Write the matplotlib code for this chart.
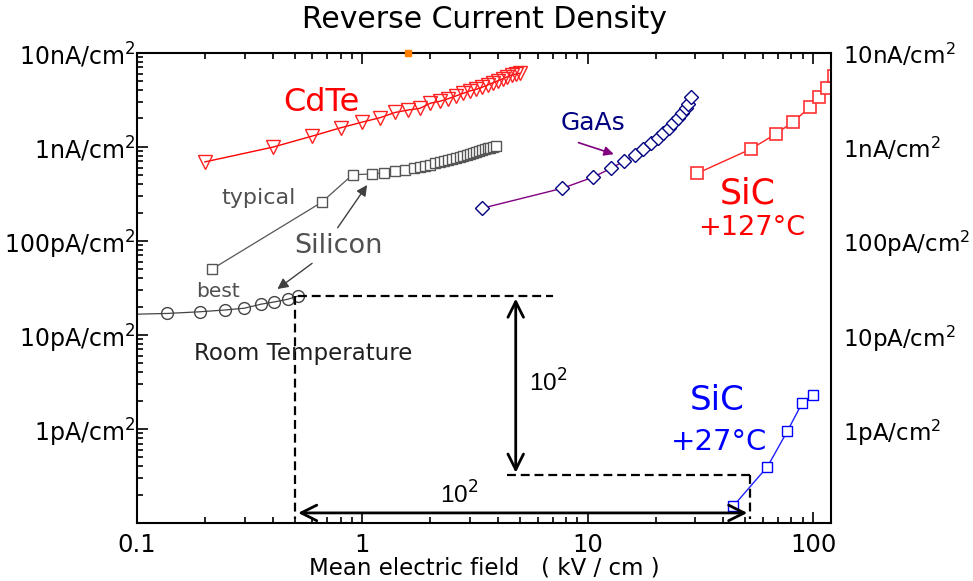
import matplotlib
matplotlib.use("Agg")
import matplotlib.pyplot as plt
from matplotlib.ticker import FixedLocator, NullFormatter, LogLocator

plt.rcParams['font.family'] = ['DejaVu Sans']
plt.rcParams['mathtext.fontset'] = 'dejavusans'

# ---------------- data ----------------
cdte_x = [0.2, 0.4, 0.6, 0.8, 1.0, 1.2, 1.4, 1.6, 1.8, 2.0, 2.2, 2.4, 2.6, 2.8,
          3.0, 3.2, 3.4, 3.6, 3.8, 4.0, 4.2, 4.4, 4.6, 4.8, 5.0]
cdte_y = [6.9e-10, 9.9e-10, 1.30e-9, 1.59e-9, 1.83e-9, 2.04e-9, 2.32e-9, 2.46e-9,
          2.56e-9, 2.90e-9, 3.04e-9, 3.24e-9, 3.47e-9, 3.70e-9, 3.92e-9, 4.08e-9,
          4.29e-9, 4.54e-9, 4.80e-9, 5.04e-9, 5.29e-9, 5.56e-9, 5.80e-9, 5.94e-9, 6.04e-9]

si_typ_x = [0.215, 0.66, 0.905, 1.1, 1.25, 1.4, 1.55, 1.7, 1.8, 1.9, 2.0, 2.1, 2.2,
            2.3, 2.4, 2.5, 2.6, 2.7, 2.8, 2.9, 3.0, 3.1, 3.2, 3.3, 3.4, 3.5, 3.6,
            3.7, 3.8, 3.9]
si_typ_y = [5.0e-11, 2.57e-10, 5.05e-10, 5.13e-10, 5.3e-10, 5.5e-10, 5.7e-10, 5.9e-10,
            6.05e-10, 6.25e-10, 6.45e-10, 6.65e-10, 6.85e-10, 7.05e-10, 7.25e-10,
            7.45e-10, 7.65e-10, 7.85e-10, 8.05e-10, 8.25e-10, 8.45e-10, 8.65e-10,
            8.85e-10, 9.0e-10, 9.2e-10, 9.4e-10, 9.6e-10, 9.8e-10, 1.0e-9, 1.03e-9]

si_best_x = [0.1, 0.136, 0.190, 0.246, 0.299, 0.355, 0.407, 0.466, 0.519]
si_best_y = [1.66e-11, 1.69e-11, 1.76e-11, 1.84e-11, 1.92e-11, 2.12e-11, 2.24e-11,
             2.39e-11, 2.59e-11]

gaas_x = [3.40, 7.72, 10.5, 12.7, 14.5, 16.2, 17.6, 19.1, 20.4, 21.6, 22.9, 23.9,
          25.2, 26.2, 27.3, 27.9, 28.6]
gaas_y = [2.22e-10, 3.62e-10, 4.73e-10, 5.90e-10, 7.06e-10, 8.17e-10, 9.46e-10,
          1.09e-9, 1.25e-9, 1.41e-9, 1.60e-9, 1.80e-9, 2.04e-9, 2.27e-9, 2.56e-9,
          2.85e-9, 3.40e-9]

sic127_x = [30.6, 52.9, 68.3, 81.3, 97.0, 106.4, 115.1, 124.0]
sic127_y = [5.22e-10, 9.46e-10, 1.37e-9, 1.83e-9, 2.65e-9, 3.36e-9, 4.22e-9, 5.6e-9]

sic27_x = [44.3, 62.7, 76.9, 89.2, 99.4]
sic27_y = [1.52e-13, 3.97e-13, 9.51e-13, 1.87e-12, 2.30e-12]

x_ticks = [0.1, 1, 10, 100]
x_labels = ["0.1", "1", "10", "100"]
y_ticks = [1e-12, 1e-11, 1e-10, 1e-9, 1e-8]
y_labels = ["1pA/cm$^2$", "10pA/cm$^2$", "100pA/cm$^2$", "1nA/cm$^2$", "10nA/cm$^2$"]

# ---------------- figure ----------------
fig = plt.figure(figsize=(9.73, 5.81), dpi=100)
ax = fig.add_axes([137/973, 1 - 523/581, (831 - 137)/973, (523 - 52.7)/581])
ax.set_xscale('log')
ax.set_yscale('log')
ax.set_xlim(0.1, 120)
ax.set_ylim(1e-13, 1e-8)

ax.plot(cdte_x, cdte_y, color='#ff0000', lw=1.0, marker='v', ms=9.5,
        mfc='none', mec='#ff2020', mew=1.0)
ax.plot(si_typ_x, si_typ_y, color='#555555', lw=0.9, marker='s', ms=7.5,
        mfc='white', mec='#555555', mew=1.0)
ax.plot(si_best_x, si_best_y, color='#444444', lw=0.9, marker='o', ms=8.5,
        mfc='none', mec='#444444', mew=1.0, markevery=slice(1, None))
ax.plot(gaas_x, gaas_y, color='#800080', lw=1.0, marker='D', ms=6.8,
        mfc='white', mec='#000080', mew=1.0)
ax.plot(sic127_x, sic127_y, color='#ff2020', lw=1.0, marker='s', ms=8.5,
        mfc='white', mec='#ff3030', mew=1.2)
ax.plot(sic27_x, sic27_y, color='#2020ff', lw=1.0, marker='s', ms=7.5,
        mfc='white', mec='#0000ff', mew=1.0)

# small orange mark on top spine
ax.plot([1.6], [1e-8], marker='s', ms=4.5, color='#ff8000', clip_on=False, zorder=5)

# dashed guide lines
dash_kw = dict(color='black', lw=1.6, dashes=(4, 2.2))
ax.plot([0.52, 7.0], [2.6e-11, 2.6e-11], **dash_kw)
ax.plot([0.504, 0.504], [2.6e-11, 1.1e-13], **dash_kw)
ax.plot([4.4, 52.5], [3.2e-13, 3.2e-13], **dash_kw)
ax.plot([52.5, 52.5], [3.2e-13, 1.1e-13], **dash_kw)

# double arrows
ax.annotate('', xy=(4.79, 3.2e-13), xytext=(4.79, 2.6e-11),
            arrowprops=dict(arrowstyle='<->', lw=2.0, color='black', mutation_scale=28))
ax.annotate('', xy=(52.5, 1.28e-13), xytext=(0.504, 1.28e-13),
            arrowprops=dict(arrowstyle='<->', lw=2.0, color='black', mutation_scale=28))

# annotation arrows
ax.annotate('', xy=(1.067, 4.15e-10), xytext=(0.764, 1.30e-10),
            arrowprops=dict(arrowstyle='-|>', lw=1.0, color='#404040', mutation_scale=16))
ax.annotate('', xy=(0.41, 2.95e-11), xytext=(0.612, 6.0e-11),
            arrowprops=dict(arrowstyle='-|>', lw=1.0, color='#404040', mutation_scale=16))
ax.annotate('', xy=(13.4, 8.17e-10), xytext=(8.85, 1.13e-9),
            arrowprops=dict(arrowstyle='-|>', lw=1.2, color='#800080', mutation_scale=14))

# texts
ax.text(0.658, 2.92e-9, 'CdTe', color='#ff0000', fontsize=23, ha='center', va='center')
ax.text(10.5, 1.79e-9, 'GaAs', color='#000080', fontsize=18, ha='center', va='center')
ax.text(0.345, 2.85e-10, 'typical', color='#505050', fontsize=16, ha='center', va='center')
ax.text(0.782, 8.8e-11, 'Silicon', color='#505050', fontsize=19.5, ha='center', va='center')
ax.text(0.229, 2.86e-11, 'best', color='#505050', fontsize=14.5, ha='center', va='center')
ax.text(0.547, 6.4e-12, 'Room Temperature', color='#202020', fontsize=16.5,
        ha='center', va='center')
ax.text(51.4, 3.22e-10, 'SiC', color='#ff0000', fontsize=25, ha='center', va='center')
ax.text(53.6, 1.37e-10, '+127°C', color='#ff0000', fontsize=19.5, ha='center', va='center')
ax.text(37.4, 2.03e-12, 'SiC', color='#0000ff', fontsize=24.5, ha='center', va='center')
ax.text(38.2, 7.26e-13, '+27°C', color='#0000ff', fontsize=21, ha='center', va='center')
ax.text(6.64, 3.08e-12, '10$^2$', color='black', fontsize=17.5, ha='center', va='center',
        family='Liberation Sans')
ax.text(2.70, 1.99e-13, '10$^2$', color='black', fontsize=17.5, ha='center', va='center',
        family='Liberation Sans')

# axes styling
for s in ax.spines.values():
    s.set_linewidth(1.5)
ax.xaxis.set_major_locator(FixedLocator(x_ticks))
ax.set_xticklabels(x_labels)
ax.xaxis.set_minor_locator(LogLocator(base=10, subs=range(2, 10)))
ax.xaxis.set_minor_formatter(NullFormatter())
ax.yaxis.set_major_locator(FixedLocator(y_ticks))
ax.set_yticklabels(y_labels)
ax.yaxis.set_minor_locator(LogLocator(base=10, subs=range(2, 10)))
ax.yaxis.set_minor_formatter(NullFormatter())
ax.tick_params(which='both', direction='in', top=True, right=True, width=1.2)
ax.tick_params(which='major', length=8)
ax.tick_params(which='minor', length=4)
ax.tick_params(axis='y', which='major', pad=1.5, labelsize=17)
ax.tick_params(axis='x', which='major', pad=7.5, labelsize=17.5)

# right-side labels
ax2 = ax.twinx()
ax2.set_yscale('log')
ax2.set_ylim(ax.get_ylim())
ax2.yaxis.set_major_locator(FixedLocator(y_ticks))
ax2.set_yticklabels(y_labels)
ax2.yaxis.set_minor_locator(LogLocator(base=10, subs=range(2, 10)))
ax2.yaxis.set_minor_formatter(NullFormatter())
ax2.tick_params(which='both', direction='in', length=0, labelsize=16.5, pad=8.5)
for s in ax2.spines.values():
    s.set_visible(False)

ax.set_xlabel('Mean electric field   ( kV / cm )', fontsize=16.5, labelpad=-1)
fig.text(484/973, 1 - 20/581, 'Reverse Current Density', fontsize=21.5,
         ha='center', va='center')

fig.savefig('out.png', dpi=100)
